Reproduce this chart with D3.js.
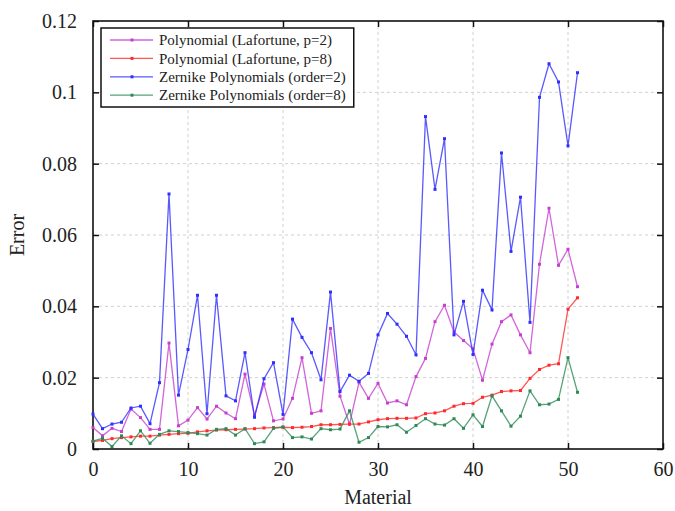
<!DOCTYPE html>
<html>
<head>
<meta charset="utf-8">
<script src="https://cdn.jsdelivr.net/npm/d3@7"></script>
<style>
body { margin: 0; background: white; }
svg { display: block; }
text { font-family: "Liberation Serif", "Times New Roman", serif; fill: #222; }
</style>
</head>
<body>
<script>
const largeur = 675;
const hauteur = 511;
const marges = { haut: 21, droite: 12, bas: 62, gauche: 93 };

const materiaux = [0, 1, 2, 3, 4, 5, 6, 7, 8, 9, 10, 11, 12, 13, 14, 15, 16, 17, 18, 19, 20,
    21, 22, 23, 24, 25, 26, 27, 28, 29, 30, 31, 32, 33, 34, 35, 36, 37, 38, 39, 40,
    41, 42, 43, 44, 45, 46, 47, 48, 49, 50, 51];

const lafortune2 = [0.0060, 0.0037, 0.0058, 0.0049, 0.0112, 0.0088, 0.0055, 0.0055, 0.0297, 0.0065,
    0.0081, 0.0116, 0.0084, 0.0120, 0.0101, 0.0085, 0.0210, 0.0094, 0.0182, 0.0079,
    0.0084, 0.0142, 0.0256, 0.0100, 0.0107, 0.0338, 0.0148, 0.0070, 0.0187, 0.0142,
    0.0184, 0.0129, 0.0135, 0.0124, 0.0203, 0.0254, 0.0357, 0.0403, 0.0328, 0.0304,
    0.0281, 0.0193, 0.0294, 0.0357, 0.0376, 0.0320, 0.0270, 0.0518, 0.0675, 0.0515,
    0.0560, 0.0455];

const lafortune8 = [0.0021, 0.0024, 0.0029, 0.0032, 0.0034, 0.0036, 0.0036, 0.0039, 0.0041, 0.0043,
    0.0044, 0.0048, 0.0051, 0.0053, 0.0054, 0.0055, 0.0056, 0.0057, 0.0059, 0.0060,
    0.0061, 0.0060, 0.0061, 0.0063, 0.0068, 0.0068, 0.0069, 0.0070, 0.0070, 0.0076,
    0.0082, 0.0085, 0.0086, 0.0086, 0.0087, 0.0099, 0.0101, 0.0107, 0.0120, 0.0127,
    0.0128, 0.0145, 0.0151, 0.0161, 0.0163, 0.0164, 0.0198, 0.0223, 0.0235, 0.0239,
    0.0392, 0.0424];

const zernike2 = [0.0098, 0.0057, 0.0070, 0.0075, 0.0115, 0.0120, 0.0071, 0.0186, 0.0715, 0.0151,
    0.0279, 0.0431, 0.0099, 0.0431, 0.0149, 0.0135, 0.0270, 0.0089, 0.0197, 0.0242,
    0.0097, 0.0364, 0.0313, 0.0270, 0.0194, 0.0440, 0.0161, 0.0207, 0.0190, 0.0212,
    0.0320, 0.0380, 0.0350, 0.0316, 0.0264, 0.0932, 0.0728, 0.0870, 0.0320, 0.0414,
    0.0265, 0.0445, 0.0390, 0.0830, 0.0554, 0.0706, 0.0355, 0.0986, 0.1080, 0.1029,
    0.0850, 0.1055];

const zernike8 = [0.0022, 0.0030, 0.0007, 0.0037, 0.0015, 0.0051, 0.0016, 0.0041, 0.0051, 0.0049,
    0.0046, 0.0043, 0.0039, 0.0055, 0.0057, 0.0039, 0.0057, 0.0015, 0.0020, 0.0058,
    0.0062, 0.0032, 0.0034, 0.0028, 0.0057, 0.0054, 0.0056, 0.0107, 0.0019, 0.0032,
    0.0063, 0.0062, 0.0068, 0.0047, 0.0066, 0.0085, 0.0070, 0.0067, 0.0085, 0.0058,
    0.0096, 0.0063, 0.0149, 0.0107, 0.0064, 0.0092, 0.0163, 0.0124, 0.0126, 0.0139,
    0.0256, 0.0159];

const nomsSeries = ["Polynomial (Lafortune, p=2)", "Polynomial (Lafortune, p=8)",
    "Zernike Polynomials (order=2)", "Zernike Polynomials (order=8)"];
const couleurs = ["#c63fcf", "#ff2a2a", "#2f2fff", "#2e8b57"];

const ticksX = [0, 10, 20, 30, 40, 50, 60];
const ticksY = [0, 0.02, 0.04, 0.06, 0.08, 0.1, 0.12];
const etiquettesY = ["0", "0.02", "0.04", "0.06", "0.08", "0.1", "0.12"];

const series = [lafortune2, lafortune8, zernike2, zernike8];

const police = "Liberation Serif, Times New Roman, serif";

const svg = d3
.select("body")
.append("svg")
.attr("width", largeur)
.attr("height", hauteur);

const x = d3.scaleLinear()
.domain([0, 60])
.range([marges.gauche, largeur - marges.droite]);

const y = d3.scaleLinear()
.domain([0, 0.12])
.range([hauteur - marges.bas, marges.haut]);

// grille pointillee
svg.append("g")
.selectAll("line")
.data(ticksX.slice(1, -1))
.enter()
.append("line")
.attr("x1", function(d) { return x(d); })
.attr("x2", function(d) { return x(d); })
.attr("y1", y(0))
.attr("y2", y(0.12))
.attr("stroke", "#d0d0d0")
.attr("stroke-dasharray", "3,3");

svg.append("g")
.selectAll("line")
.data(ticksY.slice(1, -1))
.enter()
.append("line")
.attr("x1", x(0))
.attr("x2", x(60))
.attr("y1", function(d) { return y(d); })
.attr("y2", function(d) { return y(d); })
.attr("stroke", "#d0d0d0")
.attr("stroke-dasharray", "3,3");

// axes avec graduations vers l'interieur
const axeBas = svg.append("g")
.attr("transform", "translate(0," + y(0) + ")")
.call(d3.axisBottom(x).tickValues(ticksX).tickSize(-6).tickPadding(13).tickFormat(d3.format("d")));

const axeHaut = svg.append("g")
.attr("transform", "translate(0," + y(0.12) + ")")
.call(d3.axisTop(x).tickValues(ticksX).tickSize(-6).tickFormat(""));

const axeGauche = svg.append("g")
.attr("transform", "translate(" + x(0) + ",0)")
.call(d3.axisLeft(y).tickValues(ticksY).tickSize(-6).tickPadding(16).tickFormat(function(d, i) { return etiquettesY[i]; }));

const axeDroit = svg.append("g")
.attr("transform", "translate(" + x(60) + ",0)")
.call(d3.axisRight(y).tickValues(ticksY).tickSize(-6).tickFormat(""));

[axeBas, axeHaut, axeGauche, axeDroit].forEach(function(a)
{
    a.attr("font-family", police).attr("font-size", 20);
    a.select(".domain").remove();
    a.selectAll(".tick line").attr("stroke", "#111").attr("stroke-width", 1.5);
    a.selectAll(".tick text")
    .attr("font-family", police)
    .attr("font-size", 20)
    .attr("fill", "#222");
});

svg.append("rect")
.attr("x", x(0))
.attr("y", y(0.12))
.attr("width", x(60) - x(0))
.attr("height", y(0) - y(0.12))
.attr("fill", "none")
.attr("stroke", "#111")
.attr("stroke-width", 1.6);

// courbes
const ligne = d3.line()
.x(function(d, i) { return x(materiaux[i]); })
.y(function(d) { return y(d); });

series.forEach(function(valeurs, k)
{
    svg.append("path")
    .datum(valeurs)
    .attr("d", ligne)
    .attr("fill", "none")
    .attr("stroke", couleurs[k])
    .attr("stroke-opacity", 0.8)
    .attr("stroke-width", 1.3);

    svg.append("g")
    .selectAll("rect")
    .data(valeurs)
    .enter()
    .append("rect")
    .attr("x", function(d, i) { return x(materiaux[i]) - 1.5; })
    .attr("y", function(d) { return y(d) - 1.5; })
    .attr("width", 3)
    .attr("height", 3)
    .attr("fill", couleurs[k]);
});

// titres
svg.append("text")
.attr("x", (x(0) + x(60)) / 2)
.attr("y", 504)
.attr("text-anchor", "middle")
.attr("font-family", police)
.attr("font-size", 20)
.text("Material");

svg.append("text")
.attr("transform", "translate(24," + (y(0.06)) + ") rotate(-90)")
.attr("text-anchor", "middle")
.attr("font-family", police)
.attr("font-size", 20)
.text("Error");

// legende
const legende = svg.append("g");

const cadre = legende.append("rect")
.attr("x", 101)
.attr("y", 28)
.attr("height", 79)
.attr("fill", "white")
.attr("stroke", "#111")
.attr("stroke-width", 1.5);

let largeurTexte = 0;

nomsSeries.forEach(function(nom, k)
{
    const yy = 40 + k * 18.4;

    legende.append("line")
    .attr("x1", 110)
    .attr("x2", 153)
    .attr("y1", yy)
    .attr("y2", yy)
    .attr("stroke", couleurs[k])
    .attr("stroke-opacity", 0.8)
    .attr("stroke-width", 1.3);

    legende.append("rect")
    .attr("x", 130.5)
    .attr("y", yy - 1.5)
    .attr("width", 3)
    .attr("height", 3)
    .attr("fill", couleurs[k]);

    const t = legende.append("text")
    .attr("x", 159)
    .attr("y", yy)
    .attr("dy", "0.35em")
    .attr("font-family", police)
    .attr("font-size", 15)
    .text(nom);

    largeurTexte = Math.max(largeurTexte, t.node().getComputedTextLength());
});

cadre.attr("width", 159 + largeurTexte + 8 - 101);
</script>
</body>
</html>
